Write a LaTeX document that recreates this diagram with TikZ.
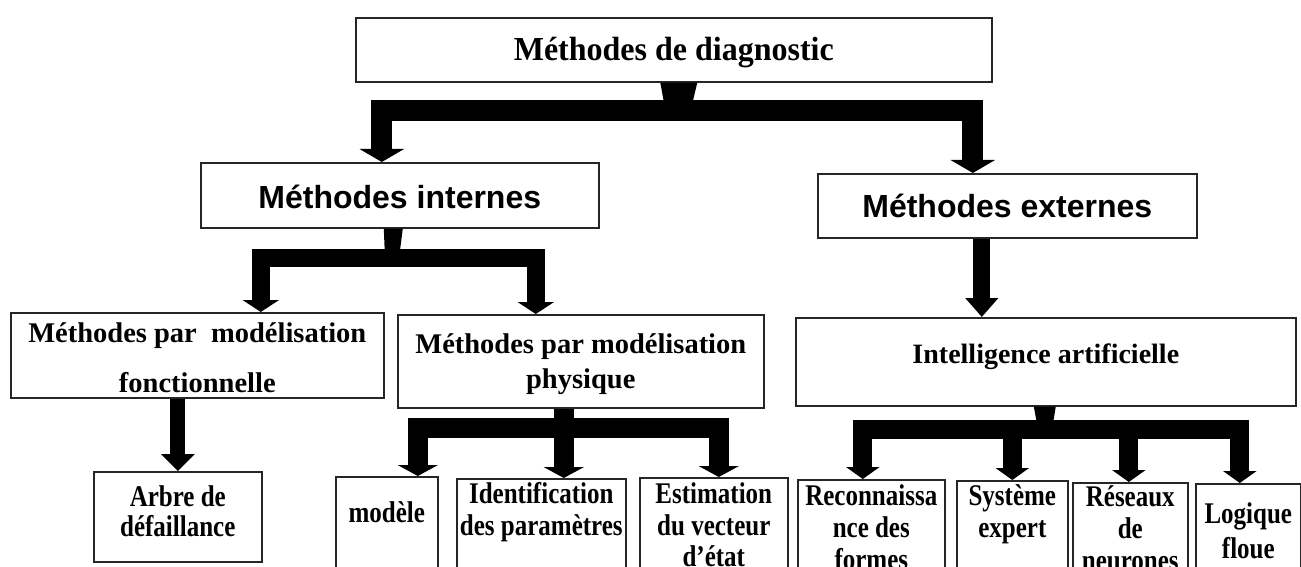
\documentclass[tikz,border=0pt]{standalone}
\usepackage{fontspec}
\setmainfont{Liberation Serif}
\newfontfamily\arialf{Liberation Sans}
\usepackage{graphicx}
\usetikzlibrary{arrows.meta,calc}
\newcommand\ml[2][1]{\scalebox{1}[#1]{\begin{tabular}[t]{@{}c@{}}#2\end{tabular}}}
\begin{document}
\begin{tikzpicture}[x=1pt,y=-1pt,
  box/.style={draw=black!85, line width=1.6pt, anchor=north west, inner sep=0pt},
  tA/.style={font=\fontsize{32}{34}\selectfont\bfseries},
  sA/.style={font=\arialf\fontsize{32}{34}\selectfont\bfseries},
  tB/.style={font=\fontsize{28.5}{#1}\selectfont\bfseries},
  tC/.style={font=\fontsize{25}{#1}\selectfont\bfseries},
  g1/.style={line width=21pt, line join=miter, arrows={Triangle[width=44pt,length=13pt]-Triangle[width=44pt,length=13pt]}},
  g2/.style={line width=18pt, line join=miter, arrows={Triangle[width=36pt,length=12pt]-Triangle[width=36pt,length=12pt]}},
  g3/.style={line width=20pt, line join=miter, arrows={Triangle[width=40pt,length=11pt]-Triangle[width=40pt,length=11pt]}},
  g3s/.style={line width=20pt, arrows={-Triangle[width=40pt,length=11pt]}},
  g4/.style={line width=19pt, line join=miter, arrows={Triangle[width=33pt,length=12pt]-Triangle[width=33pt,length=12pt]}},
  g4s/.style={line width=19pt, arrows={-Triangle[width=33pt,length=12pt]}},
  s1/.style={line width=17pt, arrows={-Triangle[width=32pt,length=19pt]}},
  s2/.style={line width=15pt, arrows={-Triangle[width=33pt,length=17pt]}},
  stub/.style={fill=black}
]
\useasboundingbox[fill=white] (0,0) rectangle (1301,567);
\clip (0,0) rectangle (1301,567);

% boxes
\node[box, tA, minimum width=636pt, text height=43pt, text depth=21pt] (top) at (355,17) {\ml[1.05]{Méthodes de diagnostic}};
\node[box, sA, minimum width=398pt, text height=46pt, text depth=19pt] (internes) at (200,162) {\ml{Méthodes internes}};
\node[box, sA, minimum width=379pt, text height=44pt, text depth=20pt] (externes) at (817,173) {\ml{Méthodes externes}};
\node[box, tB=50, minimum width=373pt, text height=30pt, text depth=55pt] (fonct) at (10,312) {\ml{Méthodes par\ \ modélisation\\fonctionnelle}};
\node[box, tB=35, minimum width=366pt, text height=39pt, text depth=54pt] (physique) at (397,314) {\ml{Méthodes par modélisation\\physique}};
\node[box, tB=30, font=\fontsize{28}{30}\selectfont\bfseries, minimum width=500pt, text height=46pt, text depth=42pt] (intel) at (795,317) {\ml{Intelligence artificielle}};
\node[box, tC=22.5, minimum width=168pt, text height=35pt, text depth=55pt] (arbre) at (93,471) {\ml[1.2]{Arbre de\\défaillance}};
\node[box, tC=26, minimum width=102pt, text height=46pt, text depth=78pt] (modele) at (335,476) {\ml[1.2]{modèle}};
\node[box, tC=26, minimum width=169pt, text height=25pt, text depth=97pt] (ident) at (456,478) {\ml[1.2]{Identification\\des paramètres}};
\node[box, tC=26, minimum width=148pt, text height=26pt, text depth=97pt] (estim) at (639,477) {\ml[1.2]{Estimation\\du vecteur\\d’état}};
\node[box, tC=26.5, minimum width=147pt, text height=26pt, text depth=95pt] (recon) at (797,479) {\ml[1.2]{Reconnaissa\\nce des\\formes}};
\node[box, tC=26.5, minimum width=111pt, text height=25pt, text depth=95pt] (syst) at (956,480) {\ml[1.2]{Système\\expert}};
\node[box, tC=26.5, minimum width=115pt, text height=24pt, text depth=95pt] (reseaux) at (1072,482) {\ml[1.2]{Réseaux\\de\\neurones}};
\node[box, tC=29, minimum width=105pt, text height=40pt, text depth=80pt] (logique) at (1195,483) {\ml[1.2]{Logique\\floue}};

% junctions
\coordinate (j1) at (678,111);
\coordinate (j2) at (392,258);
\coordinate (j3) at (563,427.5);
\coordinate (j4) at (1045,429);

% group 1
\fill[stub] ($(top.south)+(-13.5,0)$) -- ($(top.south)+(23.5,0)$) -- ($(j1)+(12.5,0)$) -- ($(j1)+(-12.5,0)$) -- cycle;
\draw[g1] ([xshift=-18pt]internes.north) |- (j1) -| ([xshift=-34.5pt]externes.north);

% group 2
\fill[stub] ($(internes.south)+(-16,0)$) -- ($(internes.south)+(3,0)$) -- ($(j2)+(7,0)$) -- ($(j2)+(-7,0)$) -- cycle;
\draw[g2] ([xshift=63.5pt]fonct.north) |- (j2) -| ([xshift=-45pt]physique.north);

% externes -> intel
\draw[s1] ([xshift=-25.5pt]externes.south) -- ([xshift=-64pt]intel.north);

% fonct -> arbre
\draw[s2] ([xshift=-19.5pt]fonct.south) -- (arbre.north);

% group 3
\draw[g3] ([xshift=31pt]modele.north) |- (j3) -| ([xshift=5pt]estim.north);
\draw[g3s] ([xshift=-17pt]physique.south) -- ([xshift=22.5pt]ident.north);

% group 4
\fill[stub] ($(intel.south)+(-12,0)$) -- ($(intel.south)+(10,0)$) -- ($(j4)+(7,0)$) -- ($(j4)+(-7,0)$) -- cycle;
\draw[g4] ([xshift=-8.5pt]recon.north) |- (j4) -| ([xshift=-8.5pt]logique.north);
\draw[g4s] (syst.north |- j4) -- (syst.north);
\draw[g4s] ([xshift=-1.5pt]reseaux.north |- j4) -- ([xshift=-1.5pt]reseaux.north);
\end{tikzpicture}
\end{document}
